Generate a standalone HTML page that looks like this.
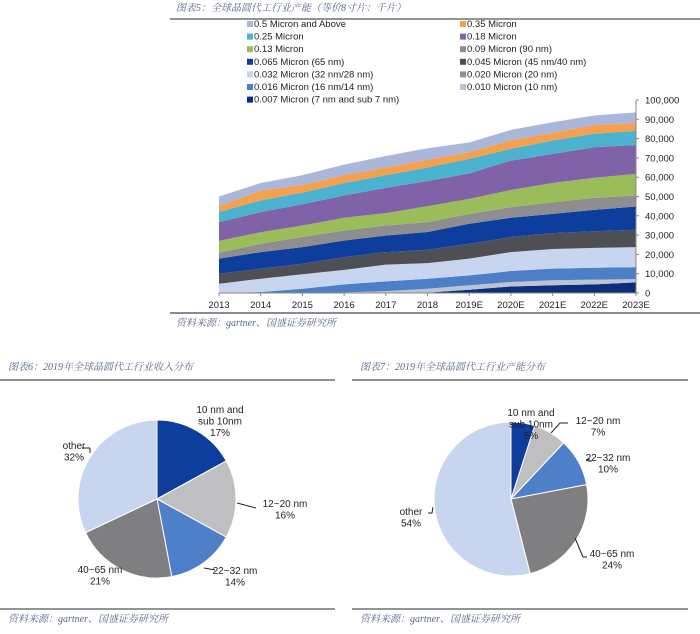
<!DOCTYPE html>
<html><head><meta charset="utf-8">
<style>
body{margin:0;width:700px;height:634px;background:#fff;overflow:hidden;font-family:"Liberation Sans","Noto Sans CJK SC",sans-serif;}
svg{position:absolute;left:0;top:0}
.cap{font-style:italic;fill:#5a6888;font-size:10px;font-family:"Liberation Serif","Noto Serif CJK SC",serif}
.lg{font-size:9.5px;fill:#222}
.ax{font-size:9.5px;fill:#222}
.pl{font-size:10px;fill:#222}
</style></head><body>
<svg id="s" width="700" height="634">
<text class="cap" x="176" y="11">图表5：全球晶圆代工行业产能（等价8寸片：千片）</text>
<line x1="170" y1="19" x2="700" y2="19" stroke="#555" stroke-width="1.2"/>
<line x1="170" y1="313" x2="700" y2="313" stroke="#445" stroke-width="1.2"/>
<text class="cap" x="176" y="326">资料来源：gartner、国盛证券研究所</text>
<g id="area"></g>
<g id="legend"></g>

<text class="cap" x="8" y="370">图表6：2019年全球晶圆代工行业收入分布</text>
<line x1="0" y1="380" x2="335" y2="380" stroke="#555" stroke-width="1.2"/>
<line x1="0" y1="609" x2="335" y2="609" stroke="#555" stroke-width="1.2"/>
<text class="cap" x="8" y="622">资料来源：gartner、国盛证券研究所</text>
<g id="pie1"></g>

<text class="cap" x="360" y="370">图表7：2019年全球晶圆代工行业产能分布</text>
<line x1="352" y1="380" x2="688" y2="380" stroke="#555" stroke-width="1.2"/>
<line x1="352" y1="609" x2="688" y2="609" stroke="#555" stroke-width="1.2"/>
<text class="cap" x="360" y="622">资料来源：gartner、国盛证券研究所</text>
<g id="pie2"></g>
</svg>
<script>
const years=["2013","2014","2015","2016","2017","2018","2019E","2020E","2021E","2022E","2023E"];
const yTicks=[0,10000,20000,30000,40000,50000,60000,70000,80000,90000,100000];
const seriesNames=["0.007 Micron (7 nm and sub 7 nm)","0.010 Micron (10 nm)","0.016 Micron (16 nm/14 nm)","0.020 Micron (20 nm)","0.032 Micron (32 nm/28 nm)","0.045 Micron (45 nm/40 nm)","0.065 Micron (65 nm)","0.09 Micron (90 nm)","0.13 Micron","0.18 Micron","0.25 Micron","0.35 Micron","0.5 Micron and Above"];
const s007=[0,0,0,0,0,200,1700,3400,4000,4500,5500];
const s010=[0,0,0,300,1000,2000,2300,2300,2600,2400,1700];
const s016=[0,500,2200,4200,5000,5200,5100,5700,6000,6200,6200];
const s020=[0,0,0,0,0,0,0,0,0,0,0];
const s032=[4800,6900,7500,7500,8700,8100,8700,9800,10200,10300,10400];
const s045=[5200,5200,5500,6600,6500,6900,7700,7800,8200,8600,9000];
const s065=[7800,8600,8600,8600,8600,9200,10400,10000,10000,11100,12000];
const s090=[3100,4300,5200,5200,5200,5100,5100,5500,6000,6200,5700];
const s130=[6100,6000,6000,6600,6400,8300,7800,8900,10000,10400,11200];
const s180=[9700,10500,11000,11500,13100,13000,13200,15200,15000,15800,15000];
const s250=[5300,6000,6000,6500,6500,7000,7500,6100,7000,7000,7300];
const s350=[3000,5000,4000,4000,4000,4000,3500,4300,4000,4500,4000];
const s500=[5000,4000,5000,5500,6000,6000,5000,5500,5500,5000,5600];
const pie1Labels=["10 nm and|sub 10nm|17%","12~20 nm|16%","22~32 nm|14%","40~65 nm|21%","other|32%"];
const pie1Values=[17,16,14,21,32];
const pie2Labels=["10 nm and|sub 10nm|5%","12~20 nm|7%","22~32 nm|10%","40~65 nm|24%","other|54%"];
const pie2Values=[5,7,10,24,54];

const NS="http://www.w3.org/2000/svg";
function mk(t,a,p){const e=document.createElementNS(NS,t);for(const k in a)e.setAttribute(k,a[k]);p.appendChild(e);return e;}
const allSeries=[s007,s010,s016,s020,s032,s045,s065,s090,s130,s180,s250,s350,s500];
const colors=["#0c2c7c","#bcc3d2","#4d7fc6","#8a8f98","#c7d6ee","#4e4f55","#0d3e9e","#8e8e90","#9bbd59","#8062a8","#4bb3cf","#f5a04c","#aab7da"];
const X0=219,X1=636,Y0=293,Y1=100;
const xs=i=>X0+(X1-X0)*i/(years.length-1);
const ys=v=>Y0-(Y0-Y1)*v/100000;
const area=document.getElementById('area');
let cum=years.map(()=>0);
allSeries.forEach((s,k)=>{
  const lo=cum.slice();cum=cum.map((c,i)=>c+s[i]);
  let d="";cum.forEach((c,i)=>{d+=(i?"L":"M")+xs(i)+","+ys(c);});
  for(let i=lo.length-1;i>=0;i--)d+="L"+xs(i)+","+ys(lo[i]);
  const p=mk('path',{d:d+"Z",fill:colors[k]},area);
  
  
});
const xl=mk('line',{x1:X0,y1:Y0,x2:X1,y2:Y0,stroke:"#888"},area);


const yl=mk('line',{x1:X1,y1:Y1,x2:X1,y2:Y0,stroke:"#888"},area);


years.forEach((y,i)=>{
  mk('line',{x1:xs(i),y1:Y0,x2:xs(i),y2:Y0+3,stroke:"#888"},area);
  const t=mk('text',{x:xs(i),y:308,'text-anchor':'middle',class:'ax'},area);t.textContent=y;
  
  
});
yTicks.forEach(v=>{
  mk('line',{x1:X1,y1:ys(v),x2:X1+3,y2:ys(v),stroke:"#888"},area);
  const t=mk('text',{x:645,y:ys(v)+3.5,class:'ax'},area);t.textContent=v.toLocaleString('en-US');
  
  
});
// legend
const lg=document.getElementById('legend');
const order=[12,11,10,9,8,7,6,5,4,3,2,1,0];
order.forEach((k,j)=>{
  const col=j%2,row=Math.floor(j/2);
  const x=col?460:247,y=27+row*12.6;
  mk('rect',{x:x,y:y-6,width:6,height:6,fill:colors[k]},lg);
  const t=mk('text',{x:x+7,y:y,class:'lg'},lg);t.textContent=seriesNames[k];
  
  
});
// pies
const pieColors=["#0d3e9e","#bfbfc1","#4d80c8","#7f7f81","#c7d6ee"];
function pie(id,vals,labels,cx,cy,r,pos){
  const g=document.getElementById(id);
  const tot=vals.reduce((a,b)=>a+b,0);let a0=-Math.PI/2;
  vals.forEach((v,i)=>{
    const a1=a0+2*Math.PI*v/tot,large=a1-a0>Math.PI?1:0;
    const d=`M${cx},${cy}L${cx+r*Math.cos(a0)},${cy+r*Math.sin(a0)}A${r},${r} 0 ${large} 1 ${cx+r*Math.cos(a1)},${cy+r*Math.sin(a1)}Z`;
    const p=mk('path',{d:d,fill:pieColors[i],stroke:"#fff","stroke-width":1},g);
    
    
    a0=a1;
  });
  labels.forEach((l,i)=>{
    const [x,y]=pos[i];
    const t=mk('text',{x:x,y:y,'text-anchor':'middle',class:'pl'},g);
    
    
    l.split('|').forEach((s,j)=>{const ts=mk('tspan',{x:x,dy:j?11.5:0},t);ts.textContent=s;});
  });
}
pie('pie1',pie1Values,pie1Labels,157,499,79,[[220,413],[285,507],[235,574],[100,573],[74,449]]);
pie('pie2',pie2Values,pie2Labels,511,499,77,[[531,416],[598,424],[608,461],[612,557],[411,515]]);
const g1=document.getElementById('pie1');
[["M90,448L90,453","M82,448L90,448"],["M237,503L256,508"],["M204,568L215,570"]].flat().forEach(d=>mk('path',{d:d,stroke:"#222",fill:"none"},g1));
const g2=document.getElementById('pie2');
["M551,433L560,423L568,423","M586,460L589,459L589,460","M588,461L592,461","M575,538L583,557L587,557","M428,513L432,513L433,507"].forEach(d=>mk('path',{d:d,stroke:"#222",fill:"none"},g2));
</script>
</body></html>
